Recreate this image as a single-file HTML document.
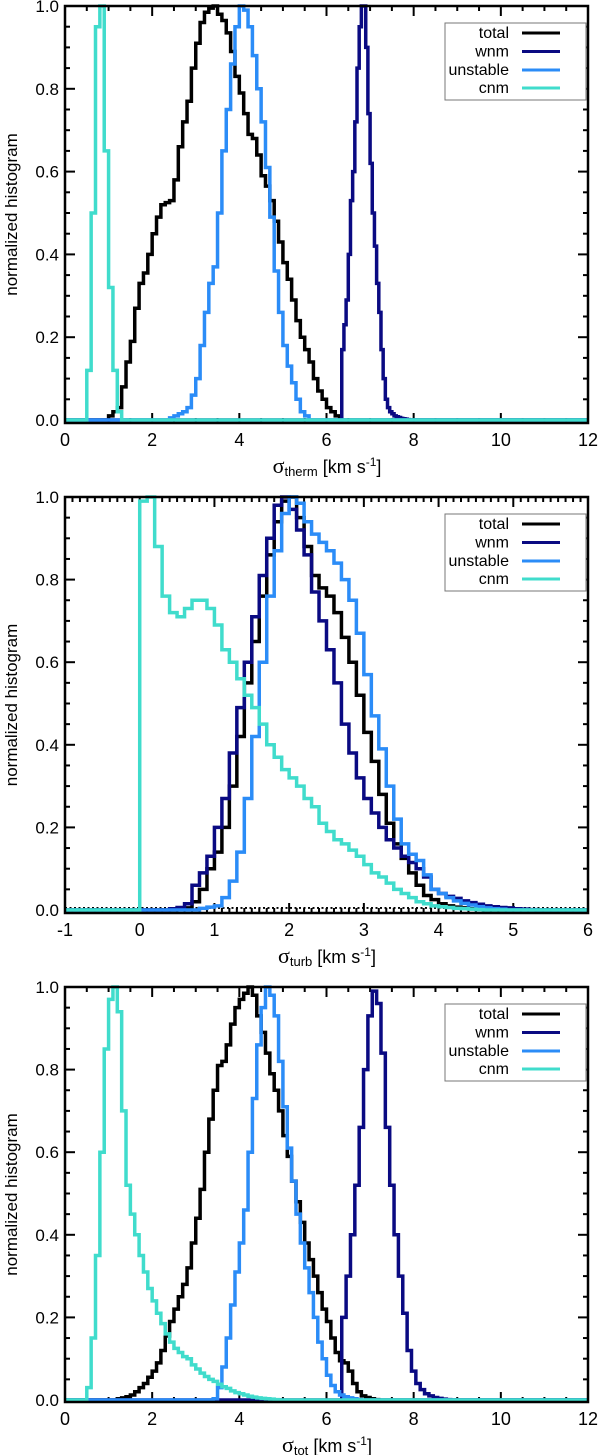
<!DOCTYPE html>
<html><head><meta charset="utf-8">
<style>
body{margin:0;background:#fff;}
svg{display:block;font-family:"Liberation Sans",Arial,sans-serif;}
</style></head>
<body>
<svg id="fig" width="600" height="1455" viewBox="0 0 600 1455" xmlns="http://www.w3.org/2000/svg"></svg>
<script>
// ---------- Panel 1: sigma_therm ----------
const p1TotalStart = 1.0, p1TotalW = 0.1;
const p1Total = [0.01,0.02,0.03,0.08,0.14,0.19,0.27,0.33,0.355,0.40,0.45,0.49,0.52,0.525,0.53,0.58,0.66,0.72,0.77,0.85,0.91,0.96,0.985,0.995,1.0,0.98,0.965,0.935,0.89,0.83,0.79,0.74,0.69,0.68,0.64,0.59,0.565,0.53,0.48,0.43,0.38,0.34,0.29,0.24,0.2,0.17,0.14,0.1,0.07,0.05,0.03,0.02,0.01,0.0];
const p1WnmStart = 6.35, p1WnmW = 0.05;
const p1Wnm = [0.17,0.23,0.29,0.4,0.53,0.6,0.72,0.85,0.95,1.0,1.0,0.9,0.74,0.62,0.5,0.42,0.33,0.26,0.17,0.1,0.05,0.03,0.02,0.015,0.01,0.008,0.006,0.004,0.003,0.002,0.001];
const p1UnstStart = 2.4, p1UnstW = 0.1;
const p1Unst = [0.005,0.01,0.015,0.02,0.03,0.06,0.1,0.18,0.26,0.33,0.37,0.5,0.65,0.75,0.86,0.95,1.0,0.99,0.95,0.88,0.8,0.72,0.61,0.49,0.36,0.26,0.18,0.13,0.09,0.05,0.02,0.01];
const p1CnmStart = 0.5, p1CnmW = 0.1;
const p1Cnm = [0.12,0.5,0.95,1.0,0.65,0.32,0.12,0.02];
const p1XTicks = ["0","2","4","6","8","10","12"];

// ---------- Panel 2: sigma_turb ----------
const p2TotalStart = 0.5, p2TotalW = 0.1;
const p2Total = [0.002,0.005,0.02,0.05,0.1,0.14,0.2,0.3,0.42,0.55,0.65,0.76,0.86,0.94,0.99,1.0,0.95,0.88,0.81,0.78,0.76,0.72,0.66,0.6,0.52,0.43,0.36,0.28,0.21,0.16,0.125,0.09,0.06,0.035,0.025,0.015,0.01,0.007,0.005,0.003,0.002];
const p2WnmStart = 0.4, p2WnmW = 0.1;
const p2Wnm = [0.003,0.006,0.015,0.06,0.09,0.13,0.2,0.27,0.38,0.49,0.6,0.71,0.81,0.9,0.98,1.0,0.97,0.92,0.86,0.77,0.7,0.63,0.55,0.45,0.38,0.32,0.27,0.235,0.2,0.17,0.15,0.13,0.115,0.1,0.08,0.05,0.04,0.033,0.028,0.022,0.018,0.014,0.01,0.008,0.006,0.005,0.003,0.002,0.001];
const p2UnstStart = 0.8, p2UnstW = 0.1;
const p2Unst = [0.004,0.007,0.01,0.03,0.07,0.14,0.27,0.42,0.6,0.76,0.87,0.96,1.0,0.985,0.94,0.91,0.89,0.87,0.84,0.8,0.75,0.67,0.57,0.47,0.39,0.3,0.22,0.16,0.135,0.12,0.085,0.05,0.04,0.03,0.022,0.016,0.012,0.008,0.005,0.003,0.002];
const p2CnmStart = 0.0, p2CnmW = 0.1;
const p2Cnm = [0.99,1.0,0.88,0.76,0.72,0.71,0.73,0.75,0.75,0.73,0.69,0.63,0.6,0.56,0.52,0.49,0.45,0.4,0.37,0.34,0.32,0.3,0.27,0.25,0.21,0.19,0.17,0.16,0.145,0.13,0.11,0.09,0.08,0.065,0.05,0.04,0.03,0.02,0.015,0.01,0.008,0.006,0.004,0.003,0.002,0.001];
const p2XTicks = ["-1","0","1","2","3","4","5","6"];

// ---------- Panel 3: sigma_tot ----------
const p3TotalStart = 1.2, p3TotalW = 0.1;
const p3Total = [0.003,0.005,0.008,0.012,0.02,0.03,0.04,0.055,0.07,0.09,0.12,0.155,0.19,0.22,0.25,0.28,0.32,0.38,0.44,0.51,0.6,0.68,0.75,0.81,0.82,0.86,0.91,0.95,0.97,0.985,1.0,0.98,0.93,0.89,0.84,0.79,0.75,0.7,0.64,0.59,0.53,0.48,0.43,0.38,0.34,0.3,0.26,0.22,0.19,0.15,0.115,0.095,0.09,0.07,0.04,0.02,0.01,0.006,0.003,0.001];
const p3WnmStart = 6.35, p3WnmW = 0.1;
const p3Wnm = [0.2,0.3,0.4,0.52,0.66,0.8,0.93,0.99,0.96,0.84,0.66,0.52,0.4,0.3,0.21,0.12,0.07,0.04,0.025,0.015,0.01,0.006,0.004,0.002,0.001];
const p3UnstStart = 3.4, p3UnstW = 0.1;
const p3Unst = [0.003,0.03,0.08,0.15,0.23,0.31,0.38,0.46,0.6,0.73,0.86,0.95,1.0,0.98,0.93,0.82,0.71,0.61,0.53,0.45,0.38,0.32,0.26,0.2,0.14,0.1,0.06,0.035,0.02,0.012,0.008,0.005,0.003,0.001];
const p3CnmStart = 0.5, p3CnmW = 0.1;
const p3Cnm = [0.03,0.15,0.35,0.6,0.85,0.97,1.0,0.94,0.7,0.52,0.45,0.4,0.35,0.31,0.27,0.24,0.21,0.185,0.16,0.14,0.125,0.115,0.105,0.1,0.085,0.075,0.065,0.057,0.05,0.045,0.038,0.032,0.028,0.022,0.018,0.015,0.012,0.009,0.007,0.005,0.004,0.003,0.002,0.001];
const p3XTicks = ["0","2","4","6","8","10","12"];

const yTickLabels = ["0.0","0.2","0.4","0.6","0.8","1.0"];
const seriesNames = ["total","wnm","unstable","cnm"];
const seriesColors = ["#000000","#0a0a82","#2b8cf7","#40dccc"];

const NS = "http://www.w3.org/2000/svg";
const svg = document.getElementById("fig");
function mk(tag, attrs, parent){
  const e = document.createElementNS(NS, tag);
  for (const k in attrs) e.setAttribute(k, attrs[k]);
  (parent||svg).appendChild(e);
  return e;
}

function drawPanel(cfg){
  const g = mk("g", {});
  
  
  const L = 65, R = 588, T = cfg.top, B = cfg.bottom;
  const x = v => L + (v - cfg.xmin) / (cfg.xmax - cfg.xmin) * (R - L);
  const y = v => cfg.zero - v * (cfg.zero - T);

  const ticks = mk("g", {stroke:"#000","stroke-width":2}, g);
  
  
  const nMinor = Math.round((cfg.xmax - cfg.xmin) / cfg.xMinor);
  for (let i = 0; i <= nMinor; i++){
    const v = cfg.xmin + i * cfg.xMinor;
    const major = Math.abs(v / cfg.xMajor - Math.round(v / cfg.xMajor)) < 1e-6;
    const len = major ? 10 : 5;
    mk("line", {x1:x(v), x2:x(v), y1:B, y2:B-len}, ticks);
    mk("line", {x1:x(v), x2:x(v), y1:T, y2:T+len}, ticks);
  }
  for (let i = 0; i <= 20; i++){
    const v = i * 0.05;
    const len = (i % 4 === 0) ? 10 : 5;
    mk("line", {x1:L, x2:L+len, y1:y(v), y2:y(v)}, ticks);
    mk("line", {x1:R, x2:R-len, y1:y(v), y2:y(v)}, ticks);
  }

  if (cfg.dotted){
    const d = mk("line", {x1:L, x2:R, y1:y(0.005), y2:y(0.005), stroke:"#000","stroke-width":1.8,"stroke-dasharray":"2,2.5"}, g);
    
    
  }

  cfg.series.forEach((s, si) => {
    let d = "M" + x(cfg.xmin) + "," + y(0) + " L" + x(s.start) + "," + y(0);
    s.vals.forEach((v, i) => {
      const x0 = s.start + i * s.w, x1 = x0 + s.w;
      d += " L" + x(x0) + "," + y(v) + " L" + x(x1) + "," + y(v);
    });
    const endX = s.start + s.vals.length * s.w;
    d += " L" + x(endX) + "," + y(0) + " L" + x(cfg.xmax) + "," + y(0);
    const p = mk("path", {d:d, fill:"none", stroke:seriesColors[si], "stroke-width":3.5, "stroke-linejoin":"miter"}, g);
    
    
  });

  const fr = mk("rect", {x:L, y:T, width:R-L, height:B-T, fill:"none", stroke:"#000", "stroke-width":2.5}, g);
  
  

  yTickLabels.forEach((t, i) => {
    const e = mk("text", {x:59, y:y(i*0.2)+6, "text-anchor":"end", "font-size":17}, g);
    e.textContent = t;
    
    
  });
  cfg.xTicks.forEach(t => {
    const v = parseFloat(t);
    const e = mk("text", {x:x(v), y:B+23, "text-anchor":"middle", "font-size":18}, g);
    e.textContent = t;
    
    
  });
  const xt = mk("text", {x:327, y:B+50, "text-anchor":"middle", "font-size":18}, g);
  
  
  xt.innerHTML = '<tspan font-family="Liberation Serif, serif" font-size="22">σ</tspan><tspan font-size="13" dy="3">' + cfg.sub + '</tspan><tspan dy="-3"> [km s</tspan><tspan font-size="12" dy="-7">-1</tspan><tspan dy="7">]</tspan>';
  const cy = (T + B) / 2;
  const yt = mk("text", {x:17, y:cy, "text-anchor":"middle", "font-size":17, transform:"rotate(-90 17 " + cy + ")"}, g);
  yt.textContent = "normalized histogram";
  
  

  const lg = mk("g", {}, g);
  
  
  const ly = T + 17;
  mk("rect", {x:445, y:ly, width:141, height:77, fill:"#fff", stroke:"#777", "stroke-width":1}, lg);
  const rows = [10, 28.5, 47, 65];
  seriesNames.forEach((n, i) => {
    const ent = mk("g", {}, lg);
    
    
    const t = mk("text", {x:509, y:ly+rows[i]+5, "text-anchor":"end", "font-size":16}, ent);
    t.textContent = n;
    mk("line", {x1:522, x2:560, y1:ly+rows[i], y2:ly+rows[i], stroke:seriesColors[i], "stroke-width":3}, ent);
  });
}

drawPanel({name:"panel-therm", top:6, bottom:423, zero:420, xmin:0, xmax:12, xMajor:2, xMinor:0.5, xTicks:p1XTicks, sub:"therm",
  series:[{start:p1TotalStart,w:p1TotalW,vals:p1Total},{start:p1WnmStart,w:p1WnmW,vals:p1Wnm},{start:p1UnstStart,w:p1UnstW,vals:p1Unst},{start:p1CnmStart,w:p1CnmW,vals:p1Cnm}]});
drawPanel({name:"panel-turb", top:497, bottom:913, zero:910, xmin:-1, xmax:6, xMajor:1, xMinor:0.1, xTicks:p2XTicks, sub:"turb", dotted:true,
  series:[{start:p2TotalStart,w:p2TotalW,vals:p2Total},{start:p2WnmStart,w:p2WnmW,vals:p2Wnm},{start:p2UnstStart,w:p2UnstW,vals:p2Unst},{start:p2CnmStart,w:p2CnmW,vals:p2Cnm}]});
drawPanel({name:"panel-tot", top:987, bottom:1402, zero:1400, xmin:0, xmax:12, xMajor:2, xMinor:0.5, xTicks:p3XTicks, sub:"tot",
  series:[{start:p3TotalStart,w:p3TotalW,vals:p3Total},{start:p3WnmStart,w:p3WnmW,vals:p3Wnm},{start:p3UnstStart,w:p3UnstW,vals:p3Unst},{start:p3CnmStart,w:p3CnmW,vals:p3Cnm}]});
</script>
</body></html>
